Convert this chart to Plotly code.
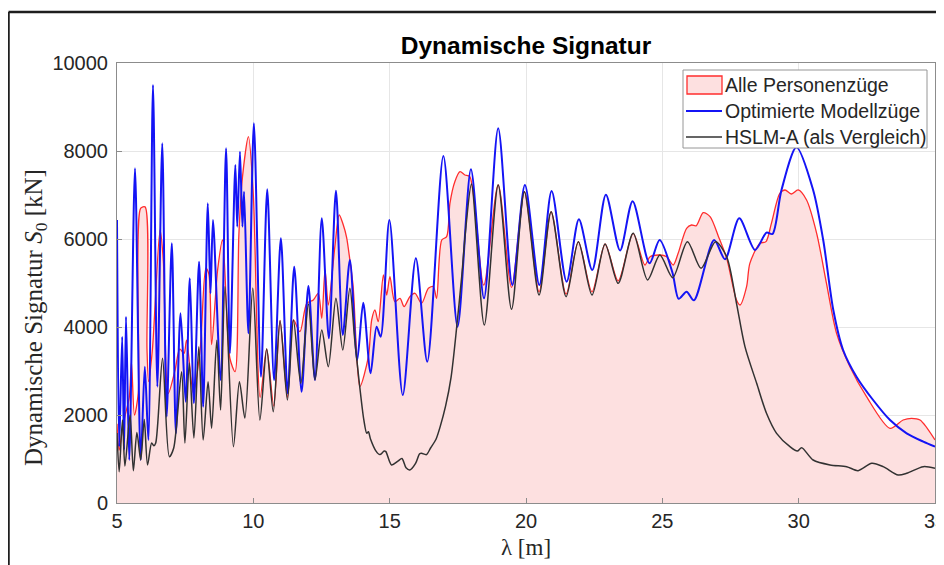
import plotly.graph_objects as go

# ---------------- data ----------------
# HSLM-A (als Vergleich)
hslm_x = [5.0, 5.08, 5.2, 5.29, 5.48, 5.60, 5.73, 5.87, 6.0, 6.12, 6.27, 6.35, 6.42, 6.67, 6.92, 7.08, 7.37,
          7.49, 7.65, 7.82, 8.0, 8.16, 8.34, 8.47, 8.66, 8.80, 8.96, 9.27, 9.49, 9.69, 9.98,
          10.24, 10.49, 10.73, 10.98, 11.25, 11.47, 11.74, 12.02, 12.26, 12.51, 12.75, 13.03, 13.28, 13.54,
          13.72, 13.91, 14.05, 14.16, 14.22, 14.30, 14.50, 14.64, 14.80, 14.86, 15.07, 15.30, 15.45, 15.60,
          15.74, 15.95, 16.10, 16.17, 16.35, 16.50, 16.70, 16.85, 17.05, 17.25, 17.46, 17.65, 17.80,
          18.0, 18.47, 18.98, 19.47, 19.94, 20.48, 20.92, 21.47, 21.92, 22.42, 22.90, 23.38, 23.93,
          24.46, 24.91, 25.38, 25.92, 26.42, 26.95, 27.36, 27.72, 28.03, 28.46, 28.82, 29.19, 29.68,
          29.95, 30.11, 30.53, 31.15, 31.76, 32.18, 32.68, 33.10, 33.65, 33.96, 34.57, 35.0]
hslm_y = [1590, 711, 1886, 840, 2000, 734, 1600, 977, 1900, 864, 1364, 1300, 1364, 3288, 1053, 1250, 2985,
          1364, 3180, 1477, 3553, 1432, 2757, 1700, 3700, 2114, 4917, 1280, 2757, 1930, 4886,
          1886, 3500, 2075, 4143, 2340, 4159, 2720, 4523, 2795, 3932, 3098, 4652, 3477, 4880,
          3700, 2600, 1900, 1583, 1620, 1450, 1180, 1100, 1180, 1167, 864, 950, 1010, 800,
          750, 900, 1120, 1130, 1100, 1250, 1450, 1730, 2200, 2850, 4007, 5200, 6300,
          7250, 4045, 7227, 4402, 7075, 4727, 6620, 4689, 5939, 4727, 5886, 4992, 6129,
          5068, 5636, 5121, 5939, 5333, 5939, 5598, 4538, 3553, 2720, 2039, 1583, 1280,
          1180, 1257, 977, 864, 826, 735, 902, 826, 636, 674, 826, 788]

# Optimierte Modellzüge
opt_x = [5.0, 5.08, 5.19, 5.26, 5.33, 5.45, 5.66, 5.87, 6.02, 6.15, 6.32, 6.48, 6.66, 6.82, 7.01, 7.16,
         7.33, 7.52, 7.67, 7.82, 8.01, 8.16, 8.33, 8.43, 8.52, 8.80, 9.0, 9.14, 9.34, 9.41, 9.51, 9.60,
         9.66, 9.82, 10.02, 10.28, 10.51, 10.76, 11.01, 11.26, 11.50, 11.77, 12.02, 12.26, 12.51, 12.77,
         13.03, 13.28, 13.54, 13.81, 14.03, 14.30, 14.52, 14.67, 14.99, 15.48, 15.96, 16.38, 16.97,
         17.49, 17.98, 18.46, 18.98, 19.50, 19.96, 20.49, 20.94, 21.49, 21.94, 22.43, 22.93, 23.45,
         23.91, 24.53, 24.90, 25.37, 25.60, 25.89, 26.16, 26.90, 27.30, 27.82, 28.40, 28.82, 29.04,
         29.37, 29.92, 30.53, 30.90, 31.27, 31.63, 32.12, 32.73, 33.35, 33.96, 34.57, 35.0]
opt_y = [6432, 1280, 3780, 1205, 4235, 977, 7606, 977, 3098, 1432, 9500, 2644, 8175, 1962, 5902, 1583,
         4311, 2300, 5110, 2273, 5485, 2189, 6811, 4766, 6432, 2795, 8061, 3402, 7682, 6280, 7985, 6280,
         7075, 3856, 8629, 2871, 7129, 2795, 6015, 2493, 5371, 2530, 4932, 2795, 6470, 3743,
         7098, 3818, 5523, 3250, 4553, 2947, 4007, 3780, 6432, 2454, 5560, 3212, 7886,
         4007, 7583, 4652, 8515, 4955, 7227, 4955, 7090, 5030, 6447, 5295, 7008, 5740,
         6860, 5447, 5977, 5240, 4640, 4803, 4606, 5977, 5540, 6470, 5750, 6144, 6114,
         7114, 8084, 7114, 5977, 4386, 3477, 2871, 2341, 1886, 1583, 1394, 1280]

# Alle Personenzüge (envelope, filled)
pz_x = [5.0, 5.08, 5.2, 5.3, 5.45, 5.53, 5.64, 5.78, 5.87, 6.03, 6.10, 6.16, 6.30, 6.58, 6.70, 6.88,
        7.13, 7.30, 7.46, 7.55, 7.80, 8.05, 8.26, 8.37, 8.47, 8.69, 8.87, 9.14, 9.33, 9.47, 9.60, 9.82,
        10.0, 10.25, 10.49, 10.75, 10.98, 11.25, 11.47, 11.71, 11.96, 12.20, 12.38, 12.51, 12.63, 12.75,
        12.99, 13.15, 13.30, 13.42, 13.54, 13.66, 13.79, 13.91, 14.22, 14.34, 14.46, 14.58, 14.77,
        14.89, 15.01, 15.19, 15.38, 15.53, 15.74, 15.93, 16.17, 16.42, 16.60, 16.72, 16.91, 17.09,
        17.21, 17.39, 17.58, 17.76, 17.94, 18.45, 18.98, 19.47, 19.94, 20.48, 20.92, 21.47, 21.92,
        22.42, 22.90, 23.38, 23.93, 24.36, 24.55, 24.91, 25.16, 25.40, 25.58, 25.89, 26.07, 26.24,
        26.50, 26.75, 27.06, 27.36, 27.72, 27.85, 28.09, 28.21, 28.58, 28.80, 29.0, 29.31, 29.50,
        29.74, 29.98, 30.29, 30.66, 31.02, 31.39, 31.88, 32.49, 33.35, 33.83, 34.14, 34.45, 35.0]
pz_y = [1800, 1200, 1700, 2000, 2400, 3200, 2000, 2500, 6700, 6730, 3500, 2757, 3500, 6205, 5500, 2493,
        3023, 3500, 3402, 3700, 2500, 3500, 5340, 5200, 3600, 5295, 5977, 3290, 2985, 6100, 7400, 8325,
        7000, 2400, 3500, 2200, 4150, 2400, 4160, 3894, 4538, 4614, 4766, 4197, 5295, 4500,
        5826, 6545, 6318, 6038, 5523, 4917, 3402, 2644, 3326, 4159, 4386, 4120, 5182,
        4727, 5144, 4575, 4650, 4462, 4689, 4766, 4538, 4879, 4917, 4652, 5977, 6053,
        6811, 7303, 7530, 7455, 7416, 4950, 7227, 4900, 7075, 4800, 6620, 4750, 5939,
        4800, 5886, 5050, 6129, 5409, 5598, 5636, 5598, 5409, 5675, 6243, 6318, 6300,
        6598, 6507, 6053, 5560, 4614, 4500, 4917, 5447, 5902, 5940, 6356, 7038, 7114,
        7023, 7114, 6886, 6129, 4992, 3856, 3098, 2416, 1697, 1886, 1924, 1886, 1432]

x_ticks = [5, 10, 15, 20, 25, 30, 35]
x_tick_labels = ["5", "10", "15", "20", "25", "30", "35"]
y_ticks = [0, 2000, 4000, 6000, 8000, 10000]
y_tick_labels = ["0", "2000", "4000", "6000", "8000", "10000"]

series_names = ["Alle Personenzüge", "Optimierte Modellzüge", "HSLM-A (als Vergleich)"]
red_line = "rgb(255,45,45)"
red_fill = "rgb(253,224,224)"
blue_line = "rgb(20,20,245)"
black_line = "rgb(50,50,50)"

# ---------------- geometry (page has an 8px body margin) ----------------
W, H = 944, 557
ML, MT, PW, PH = 109, 55, 818, 440
MR, MB = W - ML - PW, H - MT - PH


def px(fx):
    """figure pixel x -> paper x"""
    return (fx - ML) / PW


def py(fy):
    """figure pixel y -> paper y"""
    return (MT + PH - fy) / PH


# ---------------- figure ----------------
fig = go.Figure()

fig.add_trace(go.Scatter(
    x=pz_x, y=pz_y, name=series_names[0], mode="lines",
    line=dict(color=red_line, width=1.3, shape="spline", smoothing=0.8),
    fill="tozeroy", fillcolor=red_fill))

fig.add_trace(go.Scatter(
    x=opt_x, y=opt_y, name=series_names[1], mode="lines",
    line=dict(color=blue_line, width=2, shape="spline", smoothing=0.8)))

fig.add_trace(go.Scatter(
    x=hslm_x, y=hslm_y, name=series_names[2], mode="lines",
    line=dict(color=black_line, width=1.5, shape="spline", smoothing=0.8)))

axis_common = dict(
    showgrid=True, gridcolor="rgb(230,230,230)", gridwidth=1,
    showline=True, linecolor="rgb(140,140,140)", linewidth=1, mirror=True,
    ticks="inside", ticklen=5, tickcolor="rgb(140,140,140)",
    tickfont=dict(family="Liberation Sans, Arial, sans-serif", size=20, color="rgb(38,38,38)"),
    zeroline=False, automargin=False,
)

fig.update_layout(
    width=W, height=H,
    margin=dict(l=ML, r=MR, t=MT, b=MB, autoexpand=False),
    paper_bgcolor="white", plot_bgcolor="white",
    showlegend=False,
    title=dict(text="<b>Dynamische Signatur</b>", x=0.5, xref="paper", xanchor="center",
               y=1 - 37 / H, yref="container", yanchor="middle",
               font=dict(family="Liberation Sans, Arial, sans-serif", size=24.5, color="black")),
    xaxis=dict(range=[5, 35], tickmode="array", tickvals=x_ticks, ticktext=x_tick_labels,
               ticklabeloverflow="allow",
               title=dict(text="λ [m]", standoff=7,
                          font=dict(family="Liberation Serif, DejaVu Serif, serif", size=23,
                                    color="rgb(38,38,38)")),
               **axis_common),
    yaxis=dict(range=[0, 10000], tickmode="array", tickvals=y_ticks, ticktext=y_tick_labels,
               ticklabelstandoff=4, ticklabeloverflow="allow",
               **axis_common),
)

# y axis title as annotation (positioned like the reference)
fig.add_annotation(text="Dynamische Signatur <i>S</i><sub>0</sub> [kN]", textangle=-90,
                   xref="paper", yref="paper", x=px(27), y=py(310),
                   xanchor="center", yanchor="middle", showarrow=False,
                   font=dict(family="Liberation Serif, DejaVu Serif, serif", size=25,
                             color="rgb(38,38,38)"))

# ---------------- legend drawn by hand (to match the compact reference box) ----------------
fig.add_shape(type="rect", xref="paper", yref="paper", layer="above",
              x0=px(675), x1=px(919), y0=py(140), y1=py(62),
              fillcolor="white", line=dict(color="rgb(150,150,150)", width=1))
row_y = [77, 103, 129]
fig.add_shape(type="rect", xref="paper", yref="paper", layer="above",
              x0=px(679), x1=px(714), y0=py(row_y[0] + 9), y1=py(row_y[0] - 9),
              fillcolor=red_fill, line=dict(color=red_line, width=1.3))
fig.add_shape(type="line", xref="paper", yref="paper", layer="above",
              x0=px(678), x1=px(714), y0=py(row_y[1]), y1=py(row_y[1]),
              line=dict(color=blue_line, width=2))
fig.add_shape(type="line", xref="paper", yref="paper", layer="above",
              x0=px(678), x1=px(714), y0=py(row_y[2]), y1=py(row_y[2]),
              line=dict(color=black_line, width=1.5))
for name, ry in zip(series_names, row_y):
    fig.add_annotation(text=name, xref="paper", yref="paper", x=px(715), y=py(ry),
                       xanchor="left", yanchor="middle", showarrow=False,
                       font=dict(family="Liberation Sans, Arial, sans-serif", size=19.5,
                                 color="rgb(38,38,38)"))

# outer frame (top and left edges of the cropped figure border)
fig.add_shape(type="line", xref="paper", yref="paper",
              x0=px(0.5), x1=px(W + 5), y0=py(4), y1=py(4),
              line=dict(color="rgb(30,30,30)", width=2.5))
fig.add_shape(type="line", xref="paper", yref="paper",
              x0=px(0.5), x1=px(0.5), y0=py(H + 5), y1=py(4),
              line=dict(color="rgb(30,30,30)", width=2.5))

fig.write_html("out.html")
